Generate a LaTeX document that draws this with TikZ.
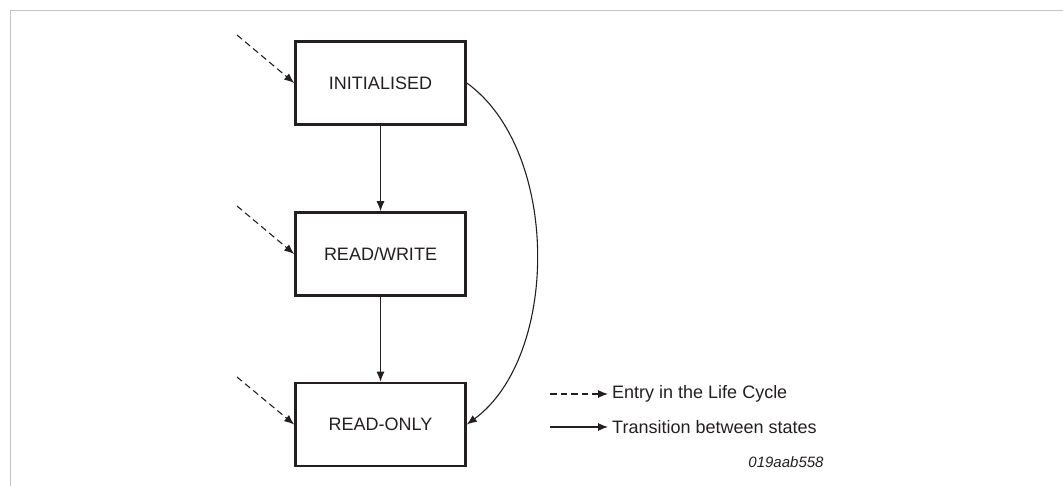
\documentclass[tikz,border=0pt]{standalone}
\usepackage{fontspec}
\setmainfont{Liberation Sans}
\usetikzlibrary{arrows.meta}
\definecolor{framegray}{HTML}{C4C4C4}
\definecolor{ink}{HTML}{231F20}
\begin{document}
\begin{tikzpicture}[x=1pt,y=-1pt,
  state/.style={draw=ink,line width=2.6pt,minimum width=170pt,minimum height=83pt,inner sep=0pt,
    font=\fontsize{18}{20}\selectfont,text=ink},
  arr/.style={draw=ink,line width=1.1pt,-{Latex[length=10pt,width=8pt]}},
  entry/.style={arr,dash pattern=on 6.5pt off 4pt},
  legtext/.style={anchor=west,inner sep=0pt,font=\fontsize{18}{20}\selectfont,text=ink}]
\useasboundingbox (0,0) rectangle (1063,486);
\draw[framegray,line width=1.2pt] (10.5,486) -- (10.5,10.5) -- (1063,10.5);
\node[state] (init) at (380.5,83) {INITIALISED};
\node[state] (rw) at (380.5,254) {READ/WRITE};
\node[state] (ro) at (380.5,424.5) {READ-ONLY};
\coordinate (e1) at (237,35);
\coordinate (e2) at (237,206);
\coordinate (e3) at (237,377);
\draw[entry] (e1) -- (init.west);
\draw[entry] (e2) -- (rw.west);
\draw[entry] (e3) -- (ro.west);
\draw[arr] (init.south) -- (rw.north);
\draw[arr] (rw.south) -- (ro.north);
\draw[arr] (init.east) .. controls (560,150) and (560,356) .. (ro.east);
\coordinate (l1s) at (550,394);
\coordinate (l2s) at (550,427);
\node[legtext] (l1t) at (612,394) {Entry in the Life Cycle};
\node[legtext] (l2t) at (612,427) {Transition between states};
\draw[entry] (l1s) -- ([xshift=-4pt]l1t.west);
\draw[arr] (l2s) -- ([xshift=-4pt]l2t.west);
\node[inner sep=0pt,font=\fontsize{15}{17}\selectfont\itshape,text=ink] (id) at (786,462) {019aab558};
\end{tikzpicture}
\end{document}
